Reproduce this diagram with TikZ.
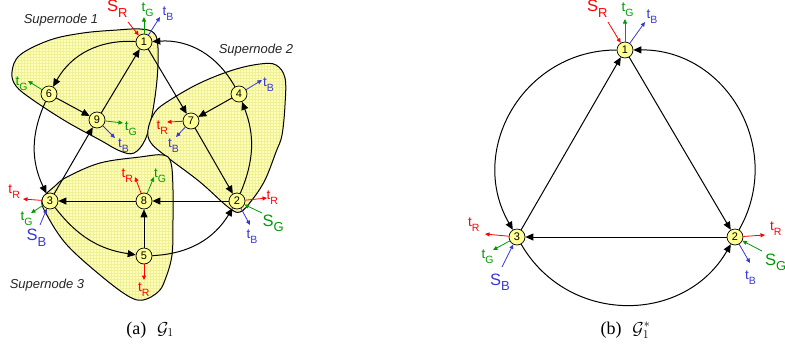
\documentclass[tikz,border=0pt]{standalone}
\usepackage{fontspec}
\setmainfont{Liberation Serif}
\newfontfamily\lsans{Liberation Sans}
\usetikzlibrary{arrows.meta,patterns}

\definecolor{snfill}{RGB}{255,255,185}
\definecolor{sngrid}{RGB}{240,240,150}
\definecolor{nfill}{RGB}{255,255,150}
\definecolor{cR}{RGB}{255,0,0}
\definecolor{cG}{RGB}{0,153,0}
\definecolor{cB}{RGB}{55,55,215}

\newcommand{\tlab}[1]{{\lsans\fontsize{13.5}{13.5}\selectfont t\raisebox{-5pt}{\fontsize{10.5}{10.5}\selectfont #1}}}
\newcommand{\slab}[1]{{\lsans\fontsize{16.5}{16.5}\selectfont S\raisebox{-5.5pt}{\fontsize{13}{13}\selectfont #1}}}

\tikzset{
 gnode/.style={circle, draw, line width=0.7pt, fill=nfill, minimum size=16pt, inner sep=0pt, font=\lsans\fontsize{11}{11}\selectfont},
 edge/.style={line width=1pt, -{Triangle[length=8pt,width=7pt]}},
 larr/.style={line width=0.8pt, -{Triangle[length=4.5pt,width=4pt]}},
 lab/.style={anchor=base west, inner sep=0pt},
 snshape/.style={line width=1pt, preaction={fill=snfill}, pattern=grid, pattern color=sngrid},
 snlabel/.style={font=\lsans\itshape\fontsize{13}{13}\selectfont, inner sep=0pt, text=black!85},
 caption/.style={font=\fontsize{18}{18}\selectfont, inner sep=0pt, anchor=base},
}

\begin{document}
\begin{tikzpicture}[x=1pt,y=-1pt]
\useasboundingbox (0,0) rectangle (785,354);

% supernodes
\draw[snshape] plot[smooth cycle, tension=0.6] coordinates {(12,72) (20,55) (50,40) (83,33) (117,30) (140,29) (154,33) (158,48) (157,80) (152,115) (145,140) (134,153) (120,151) (100,140) (67,122) (33,100) (16,86)};
\draw[snshape] plot[smooth cycle, tension=0.6] coordinates {(148,130) (155,112) (170,100) (200,83) (233,70) (260,64) (276,65) (285,78) (285,105) (282,135) (276,152) (265,180) (252,200) (240,212) (228,207) (200,182) (167,157) (151,143)};
\draw[snshape] plot[smooth cycle, tension=0.6] coordinates {(42,200) (55,186) (67,177) (100,163) (140,157) (163,155) (171,163) (173,190) (173,220) (172,255) (165,280) (158,292) (143,300) (128,296) (100,275) (67,245) (48,217)};

\node[snlabel] (sn1) at (61,20) {Supernode 1};
\node[snlabel] (sn2) at (256,50) {Supernode 2};
\node[snlabel] (sn3) at (47,285) {Supernode 3};

% left graph nodes
\node[gnode] (L1) at (144,42) {1};
\node[gnode] (L2) at (237,201) {2};
\node[gnode] (L3) at (50,201) {3};
\node[gnode] (L4) at (239,94) {4};
\node[gnode] (L5) at (144,256) {5};
\node[gnode] (L6) at (49,94) {6};
\node[gnode] (L7) at (191,121) {7};
\node[gnode] (L8) at (144,201) {8};
\node[gnode] (L9) at (97,120) {9};

% left graph edges
\draw[edge] (L1) to[bend right=32] (L6);
\draw[edge] (L6) -- (L9);
\draw[edge] (L9) -- (L1);
\draw[edge] (L1) -- (L7);
\draw[edge] (L4) to[bend right=32] (L1);
\draw[edge] (L4) -- (L7);
\draw[edge] (L7) -- (L2);
\draw[edge] (L2) to[bend right=22] (L4);
\draw[edge] (L2) -- (L8);
\draw[edge] (L8) -- (L3);
\draw[edge] (L5) -- (L8);
\draw[edge] (L3) to[bend right=22] (L5);
\draw[edge] (L5) to[bend right=28] (L2);
\draw[edge] (L3) -- (L9);
\draw[edge] (L6) to[bend right=25] (L3);

% left label arrows
\coordinate (a1s) at (128,22); \coordinate (a1g) at (144,17); \coordinate (a1b) at (160,17);
\coordinate (a6g) at (28,81);
\coordinate (a9g) at (123,123); \coordinate (a9b) at (115,138);
\coordinate (a7r) at (167,122); \coordinate (a7b) at (176,137);
\coordinate (a4b) at (262,80);
\coordinate (a2r) at (267,198); \coordinate (a2s) at (262,213); \coordinate (a2b) at (250,225);
\coordinate (a8r) at (135,177); \coordinate (a8g) at (154,177);
\coordinate (a3r) at (23,199); \coordinate (a3g) at (31,213); \coordinate (a3s) at (40,225);
\coordinate (a5r) at (144,280);

\draw[larr,cR] (a1s) -- (L1);
\draw[larr,cG] (L1) -- (a1g);
\draw[larr,cB] (L1) -- (a1b);
\draw[larr,cG] (L6) -- (a6g);
\draw[larr,cG] (L9) -- (a9g);
\draw[larr,cB] (L9) -- (a9b);
\draw[larr,cR] (L7) -- (a7r);
\draw[larr,cB] (L7) -- (a7b);
\draw[larr,cB] (L4) -- (a4b);
\draw[larr,cR] (L2) -- (a2r);
\draw[larr,cG] (a2s) -- (L2);
\draw[larr,cB] (L2) -- (a2b);
\draw[larr,cR] (L8) -- (a8r);
\draw[larr,cG] (L8) -- (a8g);
\draw[larr,cR] (L3) -- (a3r);
\draw[larr,cG] (L3) -- (a3g);
\draw[larr,cB] (a3s) -- (L3);
\draw[larr,cR] (L5) -- (a5r);

% left labels
\node[lab,text=cR] (t1s) at (107,11.5) {\slab{R}};
\node[lab,text=cG] (t1g) at (141.5,11.7) {\tlab{G}};
\node[lab,text=cB] (t1b) at (162.5,15) {\tlab{B}};
\node[lab,text=cG] (t6g) at (15.5,85) {\tlab{G}};
\node[lab,text=cG] (t9g) at (124.7,130) {\tlab{G}};
\node[lab,text=cB] (t9b) at (118,147) {\tlab{B}};
\node[lab,text=cR] (t7r) at (156.5,129) {\tlab{R}};
\node[lab,text=cB] (t7b) at (168,147) {\tlab{B}};
\node[lab,text=cB] (t4b) at (263,86) {\tlab{B}};
\node[lab,text=cR] (t2r) at (266.5,199) {\tlab{R}};
\node[lab,text=cG] (t2s) at (262.5,226) {\slab{G}};
\node[lab,text=cB] (t2b) at (246.5,238) {\tlab{B}};
\node[lab,text=cR] (t8r) at (121.5,177) {\tlab{R}};
\node[lab,text=cG] (t8g) at (154,177) {\tlab{G}};
\node[lab,text=cR] (t3r) at (8.3,193) {\tlab{R}};
\node[lab,text=cG] (t3g) at (20.5,220) {\tlab{G}};
\node[lab,text=cB] (t3s) at (26.5,240.5) {\slab{B}};
\node[lab,text=cR] (t5r) at (138,291.7) {\tlab{R}};

% right graph
\node[gnode] (R1) at (625,50) {1};
\node[gnode] (R2) at (735,237) {2};
\node[gnode] (R3) at (517,237) {3};

\draw[edge] (R1) to[bend right=60, looseness=1.14] (R3);
\draw[edge] (R2) to[bend right=60, looseness=1.14] (R1);
\draw[edge] (R3) to[bend right=60, looseness=1.14] (R2);
\draw[edge] (R3) -- (R1);
\draw[edge] (R1) -- (R2);
\draw[edge] (R2) -- (R3);

\coordinate (b1s) at (608,22); \coordinate (b1g) at (625,19); \coordinate (b1b) at (645,22);
\coordinate (b3r) at (485,234); \coordinate (b3g) at (493,250); \coordinate (b3s) at (502,267);
\coordinate (b2r) at (765,235); \coordinate (b2s) at (762,251); \coordinate (b2b) at (750,263);

\draw[larr,cR] (b1s) -- (R1);
\draw[larr,cG] (R1) -- (b1g);
\draw[larr,cB] (R1) -- (b1b);
\draw[larr,cR] (R3) -- (b3r);
\draw[larr,cG] (R3) -- (b3g);
\draw[larr,cB] (b3s) -- (R3);
\draw[larr,cR] (R2) -- (b2r);
\draw[larr,cG] (b2s) -- (R2);
\draw[larr,cB] (R2) -- (b2b);

\node[lab,text=cR] (u1s) at (587,11.7) {\slab{R}};
\node[lab,text=cG] (u1g) at (621.5,11.7) {\tlab{G}};
\node[lab,text=cB] (u1b) at (646.5,18) {\tlab{B}};
\node[lab,text=cR] (u3r) at (468,226.7) {\tlab{R}};
\node[lab,text=cG] (u3g) at (481.5,258) {\tlab{G}};
\node[lab,text=cB] (u3s) at (490,285) {\slab{B}};
\node[lab,text=cR] (u2r) at (770,230) {\tlab{R}};
\node[lab,text=cG] (u2s) at (765,265) {\slab{G}};
\node[lab,text=cB] (u2b) at (745,279) {\tlab{B}};

% captions
\node[caption] (capa) at (150,334) {(a)\hspace{0.6em}$\mathcal{G}_1$};
\node[caption] (capb) at (625.5,334) {(b)\hspace{0.6em}$\mathcal{G}_1^*$};
\end{tikzpicture}
\end{document}
